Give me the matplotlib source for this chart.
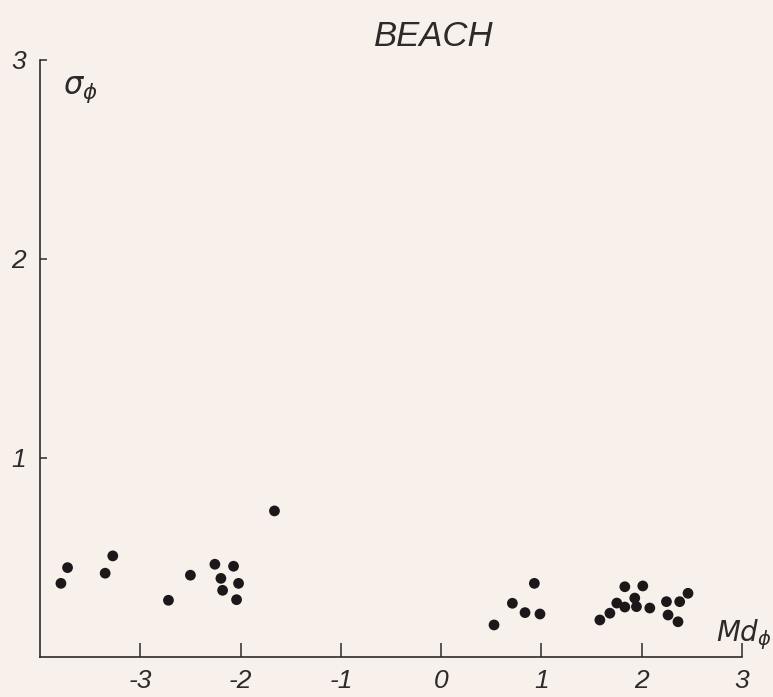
import matplotlib
matplotlib.use("Agg")
import matplotlib.pyplot as plt

# Median grain size (Md_phi) and sorting (sigma_phi) of beach sands
md_phi = [
    -3.725, -3.791, -3.274, -3.350, -2.719, -2.500, -2.256, -2.070, -2.196,
    -2.020, -2.179, -2.040, -1.662,
    0.527, 0.710, 0.836, 0.929, 0.985,
    1.582, 1.682, 1.751, 1.831, 2.010, 1.930, 1.831, 2.080, 1.947,
    2.246, 2.378, 2.461, 2.262, 2.361,
]
sigma_phi = [
    0.449, 0.370, 0.508, 0.421, 0.285, 0.411, 0.466, 0.456, 0.395,
    0.370, 0.335, 0.288, 0.734,
    0.161, 0.270, 0.223, 0.370, 0.216,
    0.186, 0.220, 0.271, 0.353, 0.357, 0.296, 0.251, 0.246, 0.253,
    0.278, 0.278, 0.320, 0.211, 0.177,
]

x_ticks = [-3, -2, -1, 0, 1, 2, 3]
x_tick_labels = ["-3", "-2", "-1", "0", "1", "2", "3"]
y_ticks = [1, 2, 3]
y_tick_labels = ["1", "2", "3"]

plt.rcParams["mathtext.fontset"] = "dejavusans"

BG = "#f8f0ea"
INK = "#2e2a2b"

fig = plt.figure(figsize=(7.73, 6.97), dpi=100, facecolor=BG)
ax = fig.add_axes([0.0517, 0.0574, 0.9083, 0.8566], facecolor=BG)

ax.scatter(md_phi, sigma_phi, s=60, color="#1c1819", edgecolors="none", zorder=3)

ax.set_xlim(-4, 3)
ax.set_ylim(0, 3)

for side in ("top", "right"):
    ax.spines[side].set_visible(False)
for side in ("left", "bottom"):
    ax.spines[side].set_color(INK)
    ax.spines[side].set_linewidth(1.2)

tick_font = dict(family="Liberation Sans", style="italic", size=19)
ax.set_xticks(x_ticks)
ax.set_xticklabels(x_tick_labels, fontdict=tick_font, color=INK)
ax.set_yticks(y_ticks)
ax.set_yticklabels(y_tick_labels, fontdict=tick_font, color=INK)
ax.tick_params(axis="x", direction="in", length=10, width=1.1, color=INK, pad=9)
ax.tick_params(axis="y", direction="in", length=5, width=1.1, color=INK, pad=10)

ax.text(0.033, 0.975, r"$\sigma_{\phi}$", transform=ax.transAxes,
        fontsize=22, color=INK, ha="left", va="top")
ax.text(0.963, 0.008, r"$Md_{\phi}$", transform=ax.transAxes,
        fontsize=20, color=INK, ha="left", va="bottom", clip_on=False)

fig.text(0.561, 0.947, "BEACH", family="Liberation Sans", style="italic",
         fontsize=25, color=INK, ha="center", va="center")

fig.savefig("out.png", dpi=100, facecolor=BG)
